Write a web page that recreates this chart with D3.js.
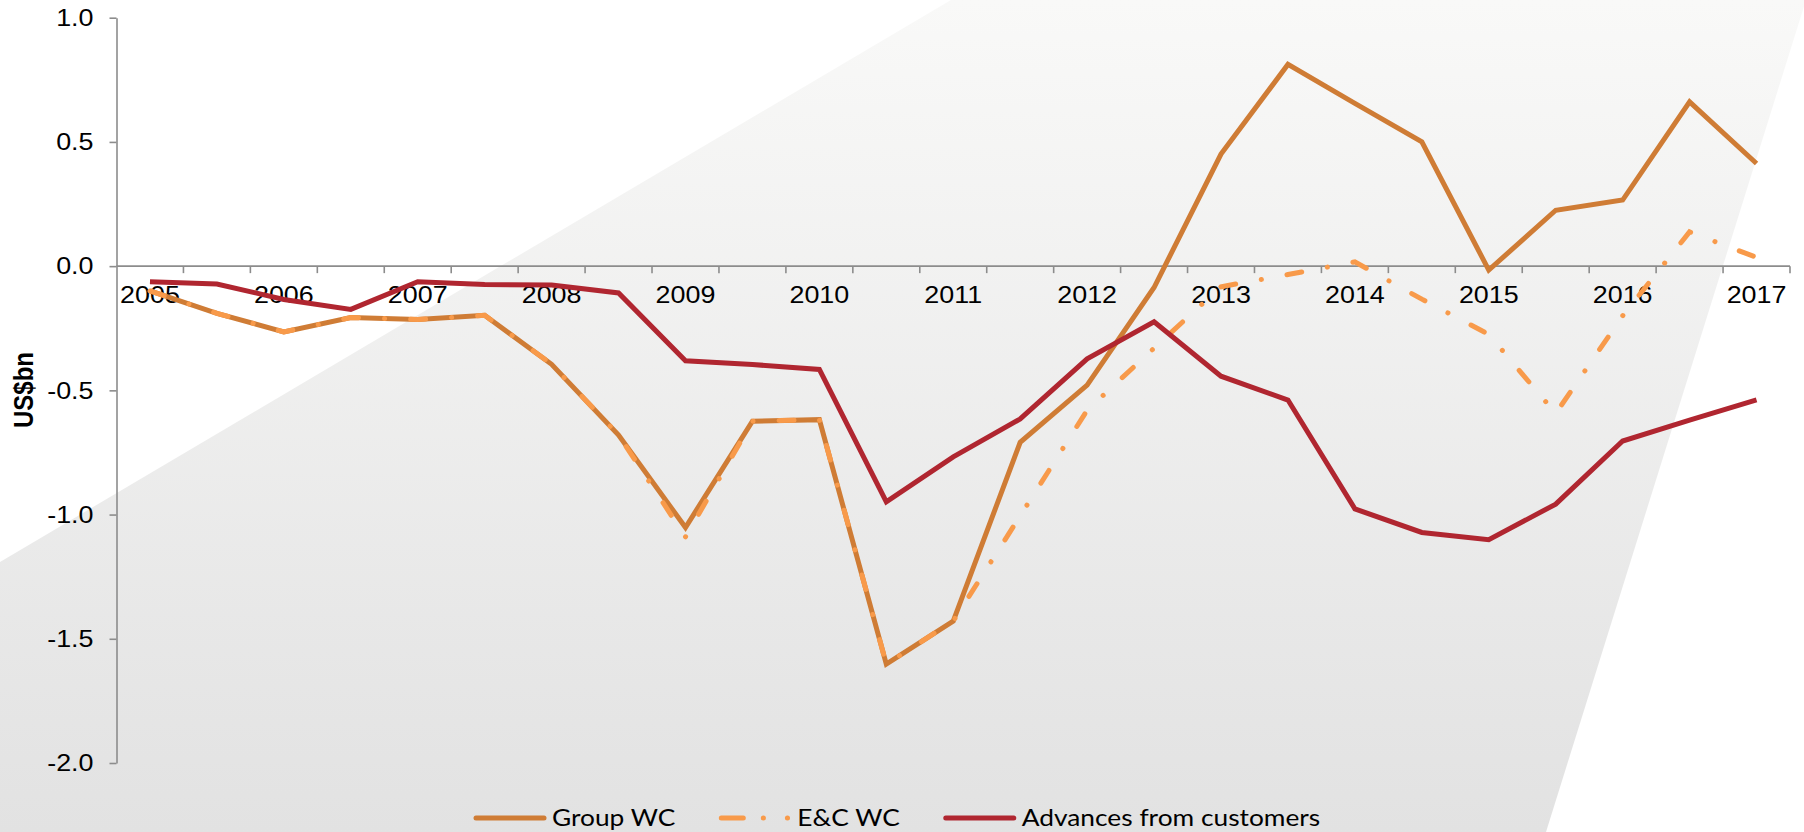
<!DOCTYPE html>
<html>
<head>
<meta charset="utf-8">
<script src="https://cdn.jsdelivr.net/npm/d3@7"></script>
<style>
  html, body { margin: 0; padding: 0; background: #fff; }
  #chart { width: 1804px; height: 832px; }
  .tick text { font-family: "Liberation Sans", Arial, sans-serif; font-size: 24px; fill: #000; }
</style>
</head>
<body>
<div id="chart"></div>
<script>
(function () {

// half-year periods, only full years get a label
var periods = ["2005", "2005b", "2006", "2006b", "2007", "2007b", "2008", "2008b",
  "2009", "2009b", "2010", "2010b", "2011", "2011b", "2012", "2012b", "2013", "2013b",
  "2014", "2014b", "2015", "2015b", "2016", "2016b", "2017"];
var yearLabels = ["2005", "2006", "2007", "2008", "2009", "2010", "2011", "2012",
  "2013", "2014", "2015", "2016", "2017"];
var yTicks = [1, 0.5, 0, -0.5, -1, -1.5, -2];

var groupWC = [-0.10, -0.19, -0.265, -0.207, -0.215, -0.198, -0.395, -0.68, -1.052,
  -0.624, -0.618, -1.602, -1.429, -0.709, -0.479, -0.086, 0.451, 0.812, 0.655, 0.500,
  -0.016, 0.225, 0.266, 0.661, 0.413];
var ecWC = [-0.10, -0.19, -0.265, -0.207, -0.215, -0.198, -0.395, -0.68, -1.09,
  -0.624, -0.618, -1.602, -1.429, -1.005, -0.58, -0.33, -0.083, -0.034, 0.017, -0.133,
  -0.275, -0.593, -0.20, 0.138, 0.035];
var advances = [-0.063, -0.072, -0.134, -0.174, -0.063, -0.074, -0.076, -0.108, -0.381,
  -0.396, -0.416, -0.949, -0.768, -0.615, -0.373, -0.224, -0.443, -0.539, -0.977, -1.072,
  -1.101, -0.958, -0.704, -0.62, -0.538];

var seriesNames = ["Group WC", "E&C WC", "Advances from customers"];

var width = 1804, height = 832;
var stretch = 1.12; // original picture is a bit wider than tall, text too
var axisColor = "#8c8c8c";
var colors = ["#cf7c35", "#f89a4a", "#b02630"];

var svg = d3.select("#chart").append("svg")
    .attr("width", width)
    .attr("height", height);

// background shape with a soft grey gradient
var grad = svg.append("defs").append("linearGradient")
    .attr("id", "bg").attr("x1", 0).attr("y1", 0).attr("x2", 0).attr("y2", 1);
grad.append("stop").attr("offset", "0%").attr("stop-color", "#f9f9f8");
grad.append("stop").attr("offset", "100%").attr("stop-color", "#e2e2e2");

svg.append("path")
    .attr("d", "M951,0 L1806,0 L1546,832 L0,832 L0,562 Z")
    .attr("fill", "url(#bg)");

var x = d3.scaleBand().domain(periods).range([116.5, 1790]);
var y = d3.scaleLinear().domain([-2, 1]).range([763, 17.7]);
function xc(p) { return x(p) + x.bandwidth() / 2; }

// y axis
var yAxis = svg.append("g")
    .attr("transform", "translate(116.5,0)")
    .call(d3.axisLeft(y).tickValues(yTicks).tickSize(7).tickSizeOuter(0).tickPadding(16)
      .tickFormat(function(d) { return d.toFixed(1); }));
yAxis.select(".domain").attr("stroke", axisColor).attr("stroke-width", 1.6);
yAxis.selectAll(".tick line").attr("stroke", axisColor).attr("stroke-width", 1.6);
yAxis.selectAll(".tick text")
    .attr("x", -23 / stretch)
    .attr("transform", "scale(" + stretch + ",1)");

// x axis at zero, ticks between the periods
var xAxis = svg.append("g").attr("transform", "translate(0," + y(0) + ")");
xAxis.append("line")
    .attr("x1", 116.5).attr("x2", 1790)
    .attr("stroke", axisColor).attr("stroke-width", 1.6);
xAxis.selectAll(".xtick")
    .data(periods)
    .enter().append("line")
    .attr("class", "xtick")
    .attr("x1", function(d) { return x(d) + x.bandwidth(); })
    .attr("x2", function(d) { return x(d) + x.bandwidth(); })
    .attr("y1", 0).attr("y2", 7)
    .attr("stroke", axisColor).attr("stroke-width", 1.6);

var xLabels = svg.append("g")
    .attr("transform", "translate(0," + y(0) + ")")
    .call(d3.axisBottom(x).tickValues(yearLabels).tickSize(0).tickPadding(19.5));
xLabels.select(".domain").remove();
xLabels.selectAll(".tick text").attr("transform", "scale(" + stretch + ",1)");

// y axis title
svg.append("text")
    .attr("transform", "translate(33,390) rotate(-90) scale(1," + stretch + ")")
    .attr("text-anchor", "middle")
    .style("font-family", "'Liberation Sans', Arial, sans-serif")
    .style("font-size", "24px")
    .style("font-weight", "bold")
    .text("US$bn");

// lines
var line = d3.line()
    .x(function(d, i) { return xc(periods[i]); })
    .y(function(d) { return y(d); });

var allSeries = [groupWC, ecWC, advances];

svg.selectAll(".series")
    .data(allSeries)
    .enter().append("path")
    .attr("class", "series")
    .attr("d", line)
    .attr("fill", "none")
    .attr("stroke", function(d, i) { return colors[i]; })
    .attr("stroke-width", 5)
    .attr("stroke-linejoin", "miter")
    .attr("stroke-linecap", function(d, i) { return i === 1 ? "round" : "butt"; })
    .attr("stroke-dasharray", function(d, i) { return i === 1 ? "15 26 0.1 26" : null; });

// legend
var legend = svg.append("g").attr("transform", "translate(474,818)");
var lx = 0;
seriesNames.forEach(function(name, i) {
  legend.append("line")
      .attr("x1", lx + 2).attr("x2", lx + 70)
      .attr("stroke", colors[i])
      .attr("stroke-width", 5)
      .attr("stroke-linecap", "round")
      .attr("stroke-dasharray", i === 1 ? "22 20 0.1 24 0.1 100" : null);
  var t = legend.append("text")
      .attr("x", (lx + 78) / stretch)
      .attr("y", 8)
      .attr("transform", "scale(" + stretch + ",1)")
      .style("font-family", "Lato, sans-serif")
      .style("font-size", "23.5px")
      .style("fill", "#000")
      .text(name);
  lx += 78 + t.node().getComputedTextLength() * stretch + 44;
});

})();
</script>
</body>
</html>
